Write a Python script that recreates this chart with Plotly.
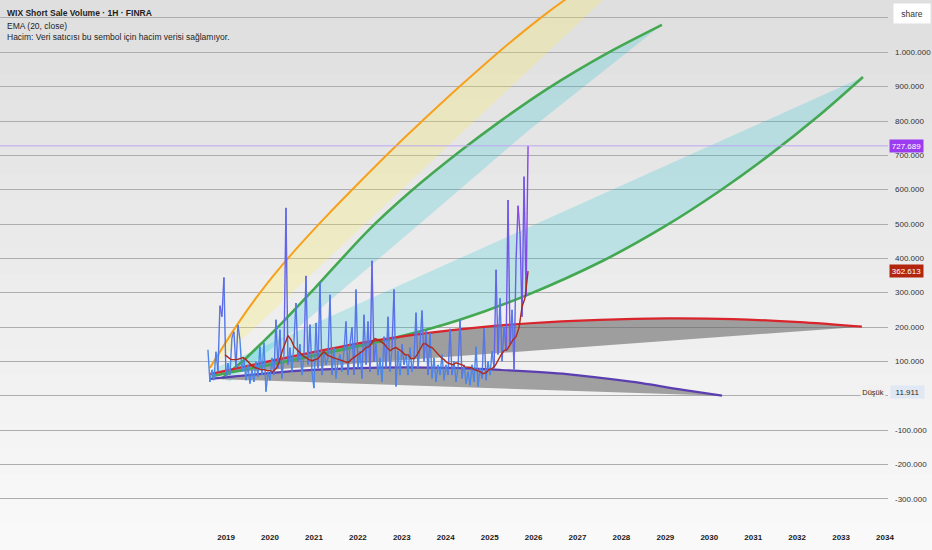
import plotly.graph_objects as go
import pandas as pd

# ------------------------------------------------------------------
# Data (values in thousands of shares)
# ------------------------------------------------------------------
volume_k = [
    134, 40, 75, 45, 128, 70, 262, 230, 344, 55,
    95, 60, 169, 186, 80, 206, 163, 70, 110, 45,
    90, 35, 75, 40, 100, 55, 143, 60, 154, 11.911,
    70, 45, 110, 60, 221, 80, 192, 50, 120, 547,
    90, 140, 70, 160, 270, 100, 150, 60, 120, 349,
    90, 207, 70, 22, 212, 80, 330, 60, 130, 90,
    110, 294, 60, 140, 50, 100, 120, 70, 130, 216,
    60, 150, 199, 60, 309, 80, 130, 50, 236, 90,
    216, 70, 393, 100, 150, 60, 110, 40, 172, 80,
    230, 70, 140, 309, 27, 130, 60, 150, 90, 120,
    60, 140, 70, 110, 242, 80, 150, 248, 100, 190,
    60, 183, 50, 110, 40, 90, 60, 120, 45, 90,
    60, 195, 60, 100, 40, 80, 222, 50, 90, 35,
    70, 30, 90, 40, 143, 27, 80, 50, 197, 45,
    100, 60, 130, 80, 367, 120, 284, 100, 200, 130,
    570, 150, 250, 76, 396, 553, 470, 230, 638, 290,
    727.689,
]
volume_start, volume_end = "2018-08-03", "2025-11-16"

ema_k = [
    119, 111, 105, 105, 105, 108, 111, 105, 96, 87,
    82, 79, 76, 76, 73, 73, 70, 79, 96, 128,
    154, 175, 163, 143, 134, 125, 116, 111, 105, 102,
    105, 108, 119, 128, 119, 114, 111, 108, 105, 102,
    99, 96, 105, 111, 119, 125, 131, 140, 143, 154,
    166, 163, 157, 151, 140, 131, 137, 140, 134, 128,
    119, 119, 108, 108, 119, 137, 151, 151, 143, 140,
    131, 119, 111, 105, 96, 93, 90, 96, 93, 90,
    84, 84, 82, 76, 73, 70, 64, 67, 76, 79,
    87, 105, 119, 131, 134, 148, 163, 172, 198, 259,
    285, 362.613,
]
ema_start = "2018-12-23"

orange_dates = ["2018-08-20", "2019-03-25", "2019-10-19", "2020-06-16", "2021-03-08",
                "2021-08-30", "2022-12-17", "2023-06-26", "2024-04-28", "2025-03-11",
                "2026-02-23", "2026-10-05", "2027-07-06"]
orange_k = [81, 202, 304, 407, 509, 573, 739, 802, 901, 999, 1099, 1157, 1220]
yellow_edge_dates = ["2018-09-06", "2028-01-30"]
yellow_edge_k = [81, 1212]

green1_dates = ["2018-11-28", "2019-06-08", "2019-10-27", "2020-03-25", "2021-01-10",
                "2022-03-25", "2023-03-10", "2024-05-15", "2025-03-28", "2026-04-22",
                "2027-09-03", "2028-12-03"]
green1_k = [50, 107, 154, 206, 314, 480, 593, 716, 799, 893, 997, 1080]
cyan1_edge_dates = ["2019-02-02", "2020-10-19", "2024-02-05", "2025-11-15", "2028-12-03"]
cyan1_edge_k = [41, 215, 576, 771, 1080]

green2_dates = ["2018-09-06", "2020-09-07", "2022-12-17", "2024-04-28", "2025-11-07",
                "2027-07-31", "2028-12-12", "2030-03-31", "2031-05-20", "2032-07-09",
                "2033-07-02"]
green2_k = [57, 108, 172, 221, 293, 393, 490, 597, 702, 818, 928]
cyan2_edge_dates = ["2018-09-06", "2033-07-02"]
cyan2_edge_k = [76, 928]

red_dates = ["2018-08-20", "2020-06-16", "2022-04-11", "2024-02-05", "2025-12-02",
             "2027-07-06", "2029-01-14", "2030-07-17", "2032-01-24", "2033-06-23"]
red_k = [63, 113, 158, 190, 211, 221, 225, 223, 214, 201]
red_edge_dates = ["2018-09-06", "2033-06-23"]
red_edge_k = [63, 201]

purple_dates = ["2018-08-20", "2020-09-07", "2022-07-04", "2024-02-05", "2025-03-28",
                "2026-10-05", "2028-04-06", "2029-05-27", "2030-04-17"]
purple_k = [49, 73, 82, 81, 75, 63, 40, 17, 0]
purple_edge_dates = ["2018-08-20", "2030-04-17"]
purple_edge_k = [49, 0]

y_ticks = list(range(-300000, 1100001, 100000))
# the 0 and 1.100.000 labels are hidden behind the "Düşük" box and the share button
hidden_ticks = {0, 1100000}
y_tick_text = ["" if v in hidden_ticks else f"{v:,}".replace(",", ".") for v in y_ticks]
years = list(range(2019, 2035))
year_ticks = [f"{y}-01-01" for y in years]
year_labels = [f"<b>{y}</b>" for y in years]

# ------------------------------------------------------------------
def k(vals):
    return [v * 1000 for v in vals]

W, H = 932, 550
ML, MR, MT, MB = 0, 44, 0, 25
PW, PH = W - ML - MR, H - MT - MB

fig = go.Figure()

# background vertical gradient (decor)
shapes = []
nb = 22
for i in range(nb):
    y_top = i * H / nb
    y_bot = (i + 1) * H / nb
    g = int(round(223 + (249 - 223) * i / (nb - 1)))
    shapes.append(dict(type="rect", xref="paper", yref="paper",
                       x0=-0.01, x1=W / PW + 0.01,
                       y0=(PH - y_bot) / PH - 0.001, y1=(PH - y_top) / PH + 0.001,
                       line=dict(width=0), fillcolor=f"rgb({g},{g},{g})", layer="below"))


def band(edge_x, edge_y, curve_x, curve_y, color):
    fig.add_trace(go.Scatter(x=edge_x, y=k(edge_y), mode="lines",
                             line=dict(width=0), hoverinfo="skip", showlegend=False))
    fig.add_trace(go.Scatter(x=curve_x, y=k(curve_y), mode="lines",
                             line=dict(width=0, shape="spline", smoothing=0.8), fill="tonexty",
                             fillcolor=color, hoverinfo="skip", showlegend=False))


YELLOW = "rgba(255,235,59,0.22)"
CYAN = "rgba(0,188,212,0.20)"
GRAY = "rgba(100,100,100,0.58)"

band(yellow_edge_dates, yellow_edge_k, orange_dates, orange_k, YELLOW)
band(cyan1_edge_dates, cyan1_edge_k, green1_dates, green1_k, CYAN)
band(cyan2_edge_dates, cyan2_edge_k, green2_dates, green2_k, CYAN)
band(red_edge_dates, red_edge_k, red_dates, red_k, GRAY)
band(purple_edge_dates, purple_edge_k, purple_dates, purple_k, GRAY)


def curve(xs, ys, color, width):
    fig.add_trace(go.Scatter(x=xs, y=k(ys), mode="lines",
                             line=dict(color=color, width=width, shape="spline", smoothing=0.8),
                             hoverinfo="skip", showlegend=False))


curve(orange_dates, orange_k, "#f7a01c", 2)
curve(green1_dates, green1_k, "#43a851", 2.6)
curve(green2_dates, green2_k, "#43a851", 2.6)
curve(red_dates, red_k, "#d9242c", 2.2)
curve(purple_dates, purple_k, "#5b3fb0", 2.2)

# volume line, coloured by level (blue -> violet)
vol_dates = pd.date_range(volume_start, volume_end, periods=len(volume_k))
levels = [(120, "#4b86e8"), (220, "#5677e8"), (350, "#6366e8"), (500, "#7257ea"), (1e9, "#8a45ec")]
groups = {c: ([], []) for _, c in levels}
for i in range(len(volume_k) - 1):
    m = (volume_k[i] + volume_k[i + 1]) / 2
    col = next(c for lim, c in levels if m < lim)
    gx, gy = groups[col]
    gx += [vol_dates[i], vol_dates[i + 1], None]
    gy += [volume_k[i] * 1000, volume_k[i + 1] * 1000, None]
for col, (gx, gy) in groups.items():
    if gx:
        fig.add_trace(go.Scatter(x=gx, y=gy, mode="lines", line=dict(color=col, width=1.4),
                                 connectgaps=False, hoverinfo="skip", showlegend=False))

ema_dates = pd.date_range(ema_start, volume_end, periods=len(ema_k))
fig.add_trace(go.Scatter(x=ema_dates, y=k(ema_k), mode="lines",
                         line=dict(color="#b0281c", width=1.4),
                         hoverinfo="skip", showlegend=False))

last_vol = volume_k[-1] * 1000
last_ema = ema_k[-1] * 1000
low_vol = min(volume_k) * 1000


def fmt(v):
    return f"{v:,.0f}".replace(",", ".")


shapes.append(dict(type="line", xref="paper", yref="y", x0=0, x1=1, y0=last_vol, y1=last_vol,
                   line=dict(color="#bca6f2", width=1)))

FONT = "Liberation Sans, Arial, sans-serif"
ann = []
header = [("<b>WIX Short Sale Volume · 1H · FINRA</b>", 13),
          ("EMA (20, close)", 25.5),
          ("Hacim: Veri satıcısı bu sembol için hacim verisi sağlamıyor.", 37)]
for txt, py in header:
    ann.append(dict(text=txt, xref="paper", yref="paper", x=0, y=1, xanchor="left",
                    yanchor="middle", xshift=5, yshift=-py, showarrow=False,
                    font=dict(family=FONT, size=8.5, color="#1e1e1e")))

ann.append(dict(text=fmt(last_vol), xref="paper", yref="y", x=1, y=last_vol,
                xanchor="left", yanchor="middle", xshift=1, showarrow=False,
                bgcolor="#9c3cf0", width=33, height=12, borderpad=0,
                font=dict(family=FONT, size=8, color="white")))
ann.append(dict(text=fmt(last_ema), xref="paper", yref="y", x=1, y=last_ema,
                xanchor="left", yanchor="middle", xshift=1, showarrow=False,
                bgcolor="#b3260e", width=33, height=12, borderpad=0,
                font=dict(family=FONT, size=8, color="white")))
ann.append(dict(text=fmt(low_vol), xref="paper", yref="y", x=1, y=low_vol,
                xanchor="left", yanchor="middle", xshift=2, showarrow=False,
                bgcolor="#dfe8f3", width=33, height=12, borderpad=0,
                font=dict(family=FONT, size=8, color="#2a2a2a")))
ann.append(dict(text="Düşük", xref="paper", yref="y", x=1, y=low_vol,
                xanchor="right", yanchor="middle", xshift=-2, showarrow=False,
                bgcolor="#f0f0f0", width=24, height=12, borderpad=0,
                font=dict(family=FONT, size=7.5, color="#2a2a2a")))
ann.append(dict(text="share", xref="paper", yref="paper", x=1, y=1,
                xanchor="left", yanchor="top", xshift=5, yshift=-3, showarrow=False,
                bgcolor="white", width=36, height=19, borderpad=0,
                font=dict(family=FONT, size=8.5, color="#333")))

fig.update_layout(
    width=W, height=H,
    margin=dict(l=ML, r=MR, t=MT, b=MB),
    paper_bgcolor="#ececec", plot_bgcolor="rgba(0,0,0,0)",
    showlegend=False, separators=",.",
    font=dict(family=FONT, size=8, color="#333"),
    shapes=shapes, annotations=ann,
    xaxis=dict(type="date", range=["2013-11-08", "2034-01-26"],
               tickvals=year_ticks, ticktext=year_labels,
               showgrid=False, zeroline=False, showline=False, ticks="",
               ticklabelstandoff=6,
               tickfont=dict(family=FONT, size=8, color="#1a1a1a")),
    yaxis=dict(side="right", range=[-376600, 1152400],
               tickvals=y_ticks, ticktext=y_tick_text,
               showgrid=True, gridcolor="#adadad", gridwidth=1.2,
               zeroline=False, showline=False, ticks="", ticklabelstandoff=6,
               tickfont=dict(family=FONT, size=8, color="#333")),
)

fig.write_html("out.html", config={"displayModeBar": False},
               post_script="document.body.style.margin='0';document.body.style.overflow='hidden';")
